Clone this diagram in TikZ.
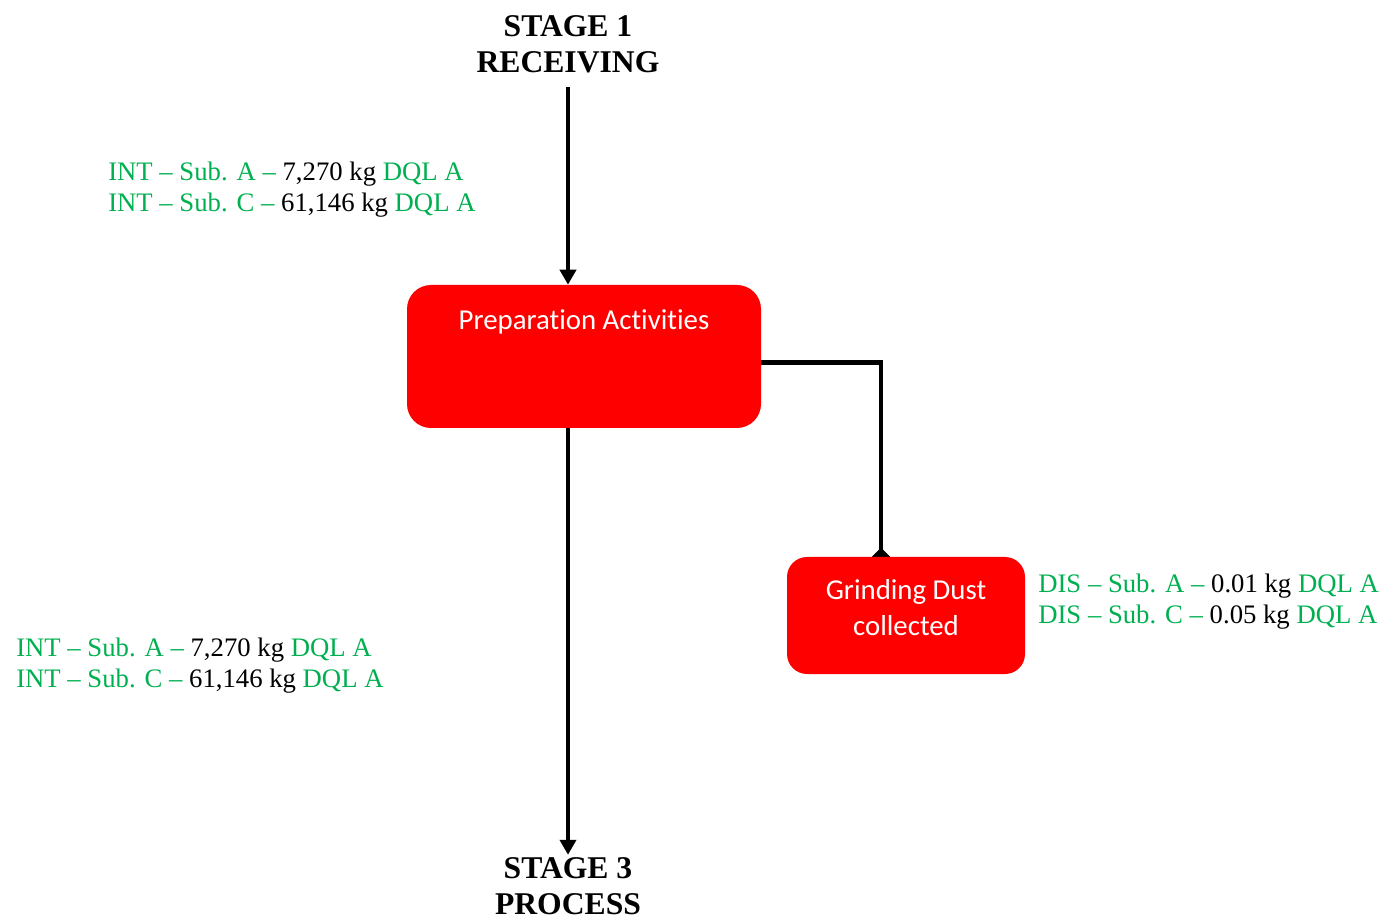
\documentclass[tikz,border=0pt]{standalone}
\usepackage{fontspec}
\setmainfont{Liberation Serif}
\newfontfamily\boxfont[Ligatures=NoCommon]{Carlito}
\usetikzlibrary{positioning,arrows.meta,backgrounds}
\definecolor{boxred}{HTML}{FF0000}
\definecolor{dqlgreen}{HTML}{00B050}

\tikzset{
  stagehead/.style={font=\fontsize{22.5}{25.6}\selectfont\bfseries,align=center,inner sep=2pt},
  flowbox/.style={fill=boxred,rounded corners=0.6cm,text=white,font=\boxfont\fontsize{20.5}{25.6}\selectfont,align=center,inner ysep=0pt},
  qtylabel/.style={text=dqlgreen,font=\fontsize{19}{22}\selectfont,align=left,anchor=west,inner sep=0pt},
  flowline/.style={line width=3.5pt},
}

\begin{document}
\begin{tikzpicture}
        \useasboundingbox (0,0) rectangle (34.775,23.05);
        % stages
        \node[stagehead] (stage1) at (14.2,21.95) {STAGE 1\\RECEIVING};
        \node[stagehead] (stage3) at (14.2,0.8875) {STAGE 3\\PROCESS};
        % process boxes
        \node[flowbox,minimum width=8.85cm,text height=1.125cm,text depth=2.45cm] (prep) at (14.6,14.1375) {Preparation Activities};
        \node[flowbox,rounded corners=0.5cm,minimum width=5.95cm,text height=1.95cm,text depth=0.975cm] (grind) at (22.65,7.6625) {Grinding Dust\\collected};
        % quantities
        \node[qtylabel] (intin) at (2.7,18.32) {INT -- Sub. A -- {\color{black}7,270 kg} DQL A\\INT -- Sub. C -- {\color{black}61,146 kg} DQL A};
        \node[qtylabel] (intout) at (0.4,6.4) {INT -- Sub. A -- {\color{black}7,270 kg} DQL A\\INT -- Sub. C -- {\color{black}61,146 kg} DQL A};
        \node[qtylabel] (disout) at (25.95,8.02) {DIS -- Sub. A -- {\color{black}0.01 kg} DQL A\\DIS -- Sub. C -- {\color{black}0.05 kg} DQL A};
        % connectors
        \begin{scope}[on background layer]
          \draw[flowline,-{Triangle[width=0.4cm,length=0.375cm]},shorten <=8pt] (stage1) -- (stage1 |- prep.north);
          \draw[flowline,-{Triangle[width=0.4cm,length=0.375cm]}] (stage3 |- prep.south) -- (stage3);
          \draw[flowline,-{Diamond[width=0.45cm,length=0.45cm]},shorten >=-0.225cm] ([yshift=-0.14cm]prep.east) -| (grind.north -| 22.025,0);
        \end{scope}
      \end{tikzpicture}
\end{document}
